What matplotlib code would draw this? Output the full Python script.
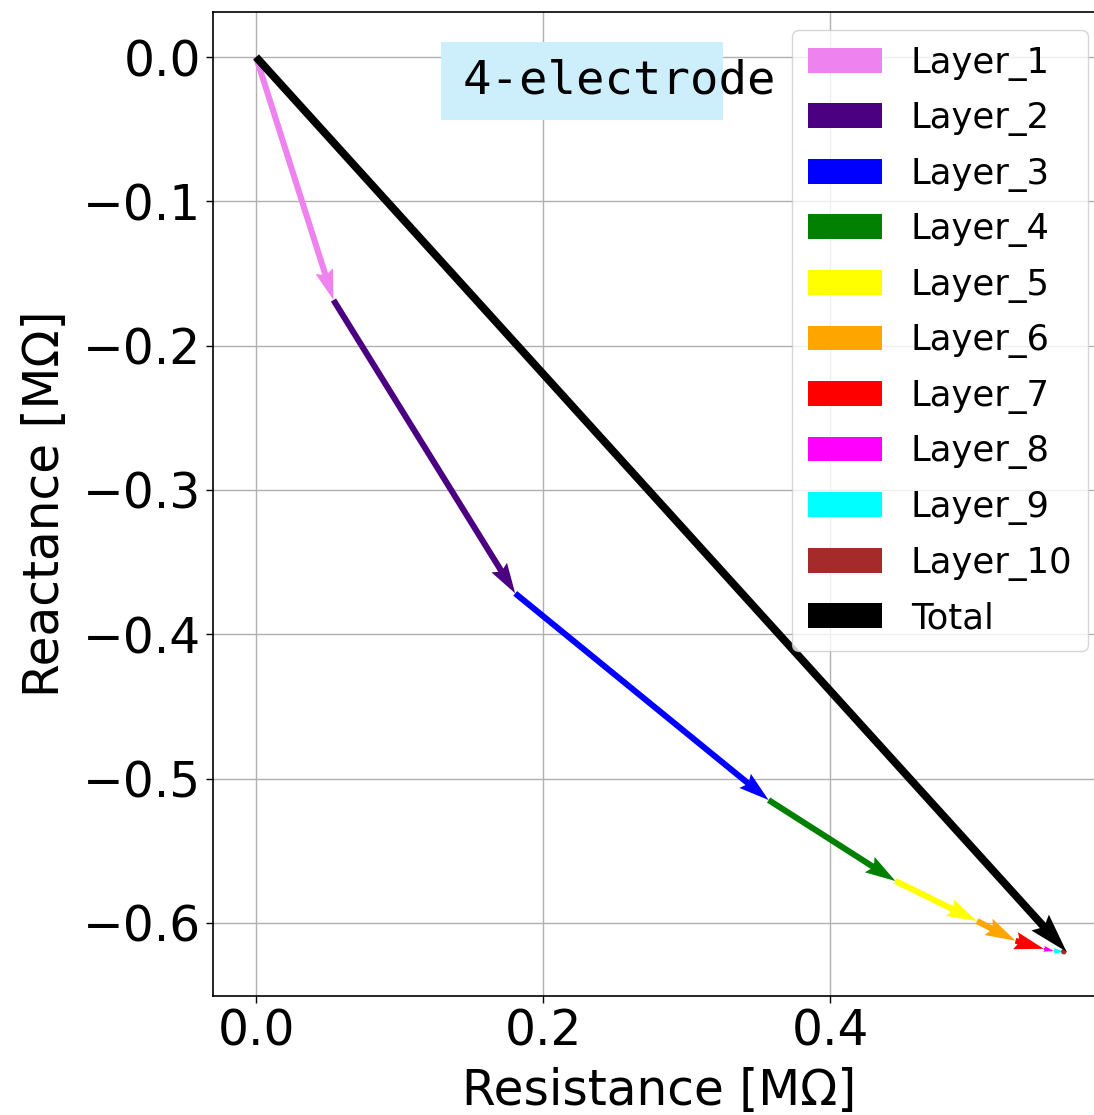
import numpy as np
import matplotlib
matplotlib.use('Agg')
import matplotlib.pyplot as plt
from matplotlib.patches import Rectangle

# per-layer resistance / reactance contributions [MOhm]
layers = ['Layer_1', 'Layer_2', 'Layer_3', 'Layer_4', 'Layer_5',
          'Layer_6', 'Layer_7', 'Layer_8', 'Layer_9', 'Layer_10']
resistance = [0.0539, 0.1266, 0.1765, 0.0883, 0.0569,
              0.0268, 0.0197, 0.0069, 0.0070, 0.0019]
reactance = [-0.1684, -0.2033, -0.1432, -0.0561, -0.0278,
             -0.0136, -0.0056, -0.0015, -0.0005, 0.0000]
colors = ['violet', 'indigo', 'blue', 'green', 'yellow',
          'orange', 'red', 'magenta', 'cyan', 'brown']

R = np.array(resistance)
X = np.array(reactance)
start_r = np.concatenate([[0], np.cumsum(R)[:-1]])
start_x = np.concatenate([[0], np.cumsum(X)[:-1]])

fig = plt.figure(figsize=(10.94, 11.15), dpi=100)
ax = fig.add_axes([213/1094, (1115-996)/1115, (1106-213)/1094, (996-12)/1115])

for i in range(len(layers)):
    ax.quiver(start_r[i], start_x[i], R[i], X[i], angles='xy', scale_units='xy',
              scale=1, color=colors[i], width=0.0068, label=layers[i], zorder=3)

ax.quiver(0, 0, R.sum(), X.sum(), angles='xy', scale_units='xy', scale=1,
          color='black', width=0.0088, label='Total', zorder=3)

ax.set_xlim(-0.03, 0.592)
ax.set_ylim(-0.6507, 0.0312)
ax.set_xticks([0.0, 0.2, 0.4])
ax.set_yticks([0.0, -0.1, -0.2, -0.3, -0.4, -0.5, -0.6])
ax.tick_params(labelsize=35, length=5, width=1)
ax.grid(True, color='#b0b0b0', linewidth=1)
ax.set_axisbelow(True)
for s in ax.spines.values():
    s.set_linewidth(1.2)

ax.set_xlabel('Resistance [MΩ]', fontsize=35, labelpad=8)
ax.set_ylabel('Reactance [MΩ]', fontsize=35, labelpad=10)

# label box
ax.add_patch(Rectangle((0.1289, -0.0437), 0.1965, 0.0541, facecolor='#cdeefb',
                       edgecolor='none', zorder=4))
ax.text(0.1436, -0.0165, '4-electrode', family='DejaVu Sans Mono', fontsize=34,
        va='center', ha='left', zorder=6)

leg = ax.legend(loc='upper right', fontsize=25.5, handlelength=2.1,
                labelspacing=0.58, borderpad=0.45)
leg.set_zorder(5)

fig.savefig('out.png', dpi=100)
